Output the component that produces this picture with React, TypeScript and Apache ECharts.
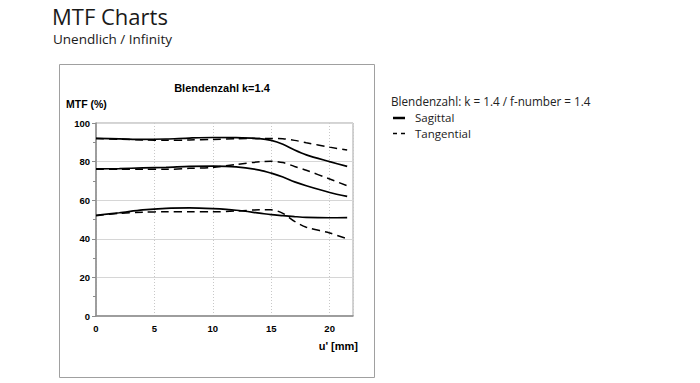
import React, { useEffect, useRef } from "react";
import * as echarts from "echarts";

const positions = [0, 2, 4, 6, 8, 10, 12, 14, 15, 16, 17, 18, 20, 21.5];
const sagittalHigh = [92, 91.8, 91.5, 91.7, 92.2, 92.5, 92.4, 91.9, 91, 89, 86, 83.5, 80, 77.5];
const tangentialHigh = [92, 91.6, 91.2, 91, 91.2, 91.5, 91.8, 92, 92, 91.8, 91, 89.8, 87.5, 86];
const sagittalMid = [76.2, 76.4, 76.7, 77, 77.5, 77.7, 77.3, 75.6, 74, 72, 69.5, 67.5, 64, 62];
const tangentialMid = [76, 76, 76, 76, 76.5, 77, 78.5, 79.9, 80.2, 79.5, 77.5, 75.5, 71, 67.5];
const sagittalLow = [52.2, 53.5, 55, 55.8, 56, 55.6, 54.8, 53.3, 52.5, 52, 51.5, 51.1, 50.9, 51];
const tangentialLow = [52, 53.2, 53.8, 54, 54, 54, 54.4, 55, 55, 53.2, 49, 46, 43, 40];
const legendNames = ["Sagittal", "Tangential"];

const pair = (vals: number[]) => positions.map((u, i) => [u, vals[i]]);

export default function App() {
  const ref = useRef<HTMLDivElement>(null);
  useEffect(() => {
    if (!ref.current) return;
    const chart = echarts.init(ref.current, null, { renderer: "svg" });
    const chartFont = "Liberation Sans";
    const mk = (name: string, vals: number[], dashed: boolean) => ({
      name,
      type: "line",
      data: pair(vals),
      symbol: "none",
      smooth: 0.3,
      lineStyle: {
        color: "#000",
        width: dashed ? 1.5 : 1.7,
        type: dashed ? [8, 5] : "solid",
      },
      itemStyle: { color: "#000" },
    });
    chart.setOption({
      animation: false,
      backgroundColor: "#fff",
      textStyle: { fontFamily: chartFont },
      grid: {
        left: 96,
        top: 123,
        width: 257,
        height: 193,
        show: true,
        borderColor: "#a6a6a6",
        borderWidth: 1,
      },
      xAxis: {
        type: "value",
        min: 0,
        max: 22,
        interval: 5,
        axisLine: { lineStyle: { color: "#8c8c8c", width: 1.5 } },
        axisTick: { show: false },
        axisLabel: {
          showMaxLabel: false,
          fontFamily: chartFont,
          fontWeight: "bold",
          fontSize: 9.5,
          color: "#000",
          margin: 7,
          formatter: (v: number) => (v % 5 === 0 ? String(v) : ""),
        },
        splitLine: { show: true, lineStyle: { color: "#c8c8c8", type: [1, 2] } },
      },
      yAxis: {
        type: "value",
        min: 0,
        max: 100,
        interval: 20,
        axisLine: { show: true, lineStyle: { color: "#8c8c8c", width: 1.5 } },
        axisTick: { show: true, length: 4, lineStyle: { color: "#8c8c8c" } },
        minorTick: { show: true, splitNumber: 2, length: 3, lineStyle: { color: "#8c8c8c" } },
        axisLabel: {
          fontFamily: chartFont,
          fontWeight: "bold",
          fontSize: 9.5,
          color: "#000",
          margin: 6,
        },
        splitLine: { show: true, lineStyle: { color: "#d6d6d6", width: 1 } },
      },
      graphic: [
        {
          type: "rect",
          shape: { x: 59.5, y: 64.5, width: 315, height: 313 },
          style: { fill: "none", stroke: "#a0a0a0", lineWidth: 1 },
          silent: true,
        },
        {
          type: "text",
          x: 52,
          y: 16,
          style: {
            text: "MTF Charts",
            font: "22px 'Open Sans'",
            fill: "#1a1a1a",
            verticalAlign: "middle",
            lineHeight: 20,
          },
        },
        {
          type: "text",
          x: 53,
          y: 38.5,
          style: {
            text: "Unendlich / Infinity",
            font: "13.5px 'Open Sans'",
            fill: "#1a1a1a",
            verticalAlign: "middle",
            lineHeight: 14,
          },
        },
        {
          type: "text",
          x: 222,
          y: 88,
          style: {
            text: "Blendenzahl k=1.4",
            font: "bold 11px 'Liberation Sans'",
            fill: "#000",
            align: "center",
            verticalAlign: "middle",
          },
        },
        {
          type: "text",
          x: 66,
          y: 104,
          style: {
            text: "MTF (%)",
            font: "bold 10.5px 'Liberation Sans'",
            fill: "#000",
            verticalAlign: "middle",
          },
        },
        {
          type: "text",
          x: 358,
          y: 346,
          style: {
            text: "u' [mm]",
            font: "bold 11px 'Liberation Sans'",
            fill: "#000",
            align: "right",
            verticalAlign: "middle",
          },
        },
        {
          type: "text",
          x: 391,
          y: 101,
          style: {
            text: "Blendenzahl: k = 1.4 / f-number = 1.4",
            font: "11.7px 'Open Sans'",
            fill: "#222",
            verticalAlign: "middle",
          },
        },
        {
          type: "line",
          shape: { x1: 393, y1: 118, x2: 405, y2: 118 },
          style: { stroke: "#000", lineWidth: 2.5 },
        },
        {
          type: "line",
          shape: { x1: 393, y1: 133.5, x2: 405, y2: 133.5 },
          style: { stroke: "#000", lineWidth: 1.3, lineDash: [4, 4] },
        },
        {
          type: "text",
          x: 415,
          y: 117,
          style: {
            text: legendNames[0],
            font: "11.5px 'Open Sans'",
            fill: "#222",
            verticalAlign: "middle",
            lineHeight: 12,
          },
        },
        {
          type: "text",
          x: 415,
          y: 133,
          style: {
            text: legendNames[1],
            font: "11.5px 'Open Sans'",
            fill: "#222",
            verticalAlign: "middle",
            lineHeight: 12,
          },
        },
      ],
      series: [
        mk("Sagittal", sagittalHigh, false),
        mk("Sagittal", sagittalMid, false),
        mk("Sagittal", sagittalLow, false),
        mk("Tangential", tangentialHigh, true),
        mk("Tangential", tangentialMid, true),
        mk("Tangential", tangentialLow, true),
      ],
    });
    return () => chart.dispose();
  }, []);
  return (
    <div
      ref={ref}
      style={{ position: "fixed", left: 0, top: 0, width: 700, height: 383 }}
    />
  );
}
